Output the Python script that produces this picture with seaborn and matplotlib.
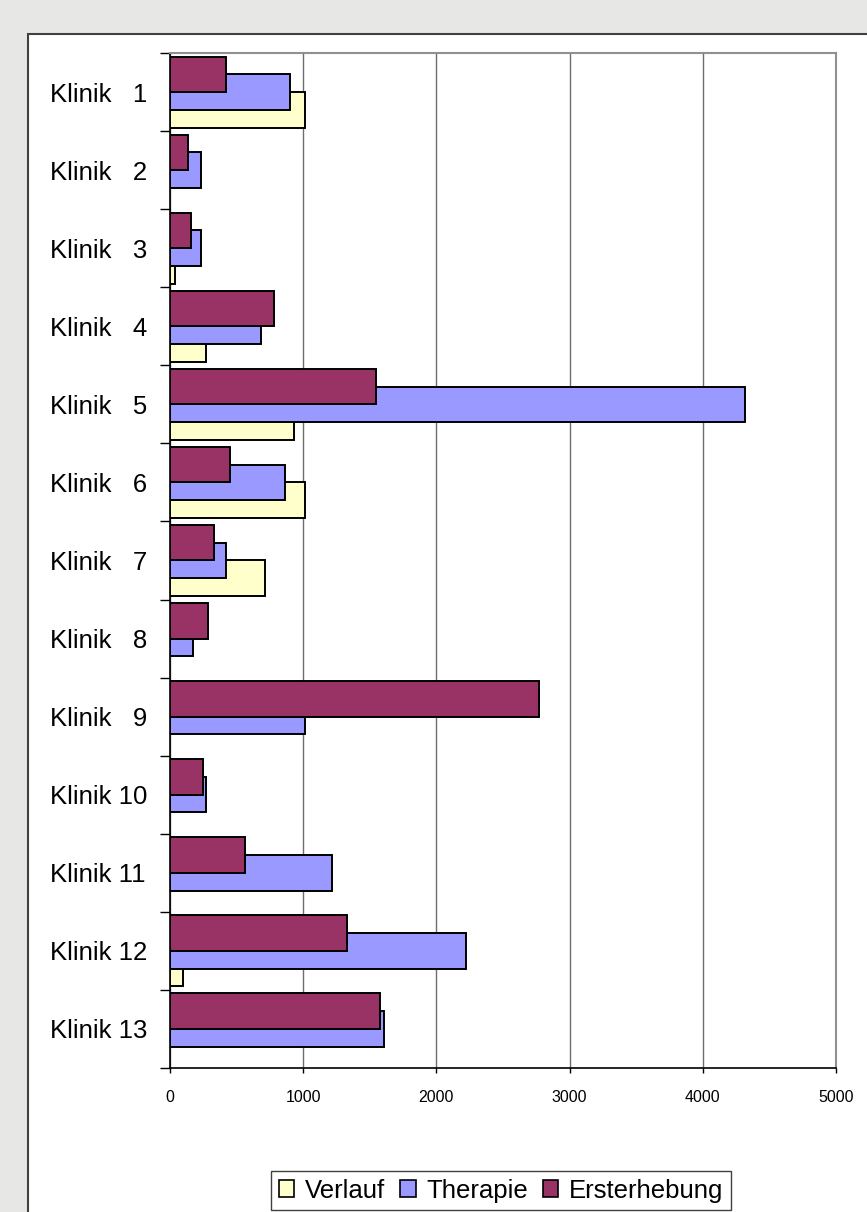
import numpy as np
import pandas as pd
import matplotlib
matplotlib.use("Agg")
import matplotlib.pyplot as plt
import seaborn as sns
from matplotlib.patches import Rectangle

# Werte je Klinik
kliniken = ["Klinik   1", "Klinik   2", "Klinik   3", "Klinik   4", "Klinik   5",
            "Klinik   6", "Klinik   7", "Klinik   8", "Klinik   9", "Klinik 10",
            "Klinik 11", "Klinik 12", "Klinik 13"]
ersterhebung = [423, 133, 161, 778, 1548, 450, 327, 287, 2772, 246, 562, 1331, 1577]
therapie = [900, 229, 229, 681, 4316, 863, 423, 174, 1013, 269, 1219, 2222, 1604]
verlauf = [1013, 0, 38, 272, 928, 1013, 712, 0, 0, 0, 0, 94, 0]

serien = ["Ersterhebung", "Therapie", "Verlauf"]
farben = {"Ersterhebung": "#993366", "Therapie": "#9999FF", "Verlauf": "#FFFFCC"}

df = pd.DataFrame({
    "klinik": kliniken * 3,
    "serie": ["Ersterhebung"] * 13 + ["Therapie"] * 13 + ["Verlauf"] * 13,
    "wert": ersterhebung + therapie + verlauf,
})

sns.set_style("white")
plt.rcParams["font.family"] = ["Liberation Sans", "DejaVu Sans"]
plt.rcParams["text.color"] = "black"

W, H = 867, 1212
fig = plt.figure(figsize=(W / 100, H / 100), dpi=100)
fig.patch.set_facecolor("#e7e8e5")

# weisser Diagrammbereich
fig.patches.append(Rectangle((28 / W, -0.01), 1.0, (H - 34) / H + 0.01,
                             transform=fig.transFigure, facecolor="white",
                             edgecolor="#404040", lw=1.5, zorder=-5))

ax = fig.add_axes([170 / W, (H - 1068) / H, (836 - 170) / W, (1068 - 53) / H])
ax.set_facecolor("white")

bar_h = 0.455
sns.barplot(data=df, y="klinik", x="wert", hue="serie", hue_order=serien,
            palette=farben, orient="h", width=1.5 * bar_h, dodge=True,
            errorbar=None, edgecolor="black", linewidth=1.4, saturation=1,
            legend=False, ax=ax)

# Balken ueberlappen um die Haelfte (wie im Original)
for cont, z in zip(ax.containers, [3.0, 2.9, 2.8]):
    for bar in cont:
        cy = bar.get_y() + bar.get_height() / 2
        bar.set_height(bar_h)
        bar.set_y(cy - bar_h / 2)
        bar.set_zorder(z)
        if bar.get_width() == 0:
            bar.set_visible(False)

ax.set_xlim(0, 5000)
ax.set_ylim(12.5, -0.5)
ax.set_xticks(np.arange(0, 5001, 1000))
ax.set_yticks(np.arange(-0.5, 13, 1), minor=True)
ax.set_axisbelow(True)
ax.grid(axis="x", color="#6e6e6e", lw=1)
ax.grid(axis="y", visible=False)
ax.set_xlabel("")
ax.set_ylabel("")

ax.tick_params(axis="y", which="major", length=0, pad=86.4, labelsize=18.5, colors="black")
ax.tick_params(axis="y", which="minor", left=True, length=7.2, width=1, color="black", direction="out")
ax.tick_params(axis="x", bottom=True, length=3.6, width=1, color="black", direction="out",
               labelsize=11.5, pad=12, labelcolor="black")
for lbl in ax.get_yticklabels():
    lbl.set_ha("left")

for s in ["left", "bottom"]:
    ax.spines[s].set_color("black")
    ax.spines[s].set_linewidth(1.2)
for s in ["top", "right"]:
    ax.spines[s].set_color("#909090")
    ax.spines[s].set_linewidth(1.5)

handles = [Rectangle((0, 0), 1, 1, facecolor=farben[s], edgecolor="black", lw=1.2)
           for s in ["Verlauf", "Therapie", "Ersterhebung"]]
leg = fig.legend(handles, ["Verlauf", "Therapie", "Ersterhebung"], ncol=3,
                 loc="upper center", bbox_to_anchor=(501 / W, (H - 1171) / H),
                 fontsize=18.5, frameon=True, fancybox=False, framealpha=1,
                 handlelength=0.6, handleheight=0.6, handletextpad=0.4,
                 columnspacing=0.6, borderpad=0.3, borderaxespad=0)
leg.get_frame().set_edgecolor("#404040")
leg.get_frame().set_linewidth(1)
for t in leg.get_texts():
    t.set_color("black")

fig.savefig("out.png", dpi=100, facecolor=fig.get_facecolor())
